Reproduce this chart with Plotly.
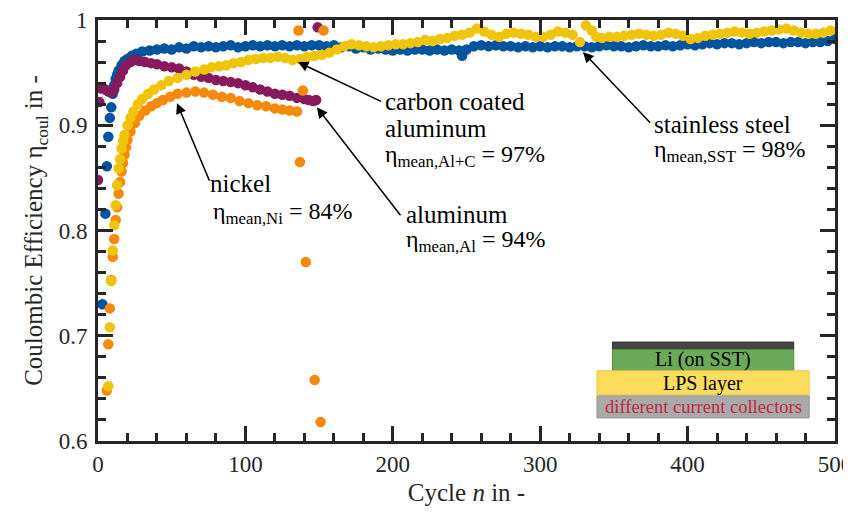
import plotly.graph_objects as go

# ---------------- data ----------------
sst_cycles = [3, 5, 6, 7, 8, 9, 10, 11, 12, 13, 14, 16, 18, 20, 23, 26,
              30, 35, 40, 45, 50, 55, 60, 65, 70, 75, 80, 85, 90, 95, 100,
              105, 110, 115, 120, 125, 130, 135, 140, 145, 150, 155, 160, 165,
              170, 175, 180, 185, 190, 195, 200, 205, 210, 215, 220, 225, 230,
              235, 240, 245, 247, 250, 255, 260, 265, 270, 275, 280, 285, 290,
              295, 300, 305, 310, 315, 320, 325, 330, 335, 340, 345, 350, 355,
              360, 365, 370, 375, 380, 385, 390, 395, 400, 405, 410, 415, 420,
              425, 430, 435, 440, 445, 450, 455, 460, 465, 470, 475, 480, 485,
              490, 495, 500]
sst_eta = [0.730, 0.816, 0.861, 0.889, 0.907, 0.917, 0.930, 0.938, 0.944, 0.948,
           0.952, 0.957, 0.961, 0.963, 0.966, 0.968,
           0.970, 0.971, 0.972, 0.973, 0.972, 0.974, 0.973, 0.975, 0.974, 0.975,
           0.974, 0.975, 0.976, 0.974, 0.975, 0.976, 0.975, 0.976, 0.975, 0.976,
           0.975, 0.976, 0.975, 0.976, 0.976, 0.975, 0.976, 0.974, 0.975, 0.973,
           0.974, 0.972, 0.973, 0.972, 0.971, 0.972, 0.971, 0.972, 0.972, 0.971,
           0.972, 0.971, 0.972, 0.971, 0.966, 0.972, 0.975, 0.976, 0.975, 0.976,
           0.975, 0.975, 0.974, 0.975, 0.974, 0.975, 0.974, 0.975, 0.975, 0.974,
           0.975, 0.975, 0.974, 0.975, 0.976, 0.975, 0.975, 0.974, 0.975, 0.976,
           0.975, 0.975, 0.976, 0.975, 0.976, 0.977, 0.976, 0.977, 0.978, 0.977,
           0.978, 0.978, 0.977, 0.978, 0.979, 0.978, 0.979, 0.979, 0.978, 0.979,
           0.979, 0.978, 0.979, 0.979, 0.980, 0.982]

al_cycles = [0, 1, 2, 3, 5, 7, 9, 11, 13, 15, 17, 19, 22, 25, 28, 32, 36, 40,
             45, 50, 55, 60, 65, 70, 75, 80, 85, 90, 95, 100, 105, 110, 115,
             120, 125, 130, 135, 140, 143, 146, 148, 149]
al_eta = [0.848, 0.922, 0.935, 0.936, 0.934, 0.932, 0.931, 0.934, 0.940, 0.946,
          0.952, 0.957, 0.960, 0.962, 0.961, 0.960, 0.959, 0.958, 0.956, 0.955,
          0.954, 0.951, 0.948, 0.946, 0.945, 0.943, 0.942, 0.941, 0.940, 0.938,
          0.936, 0.934, 0.932, 0.930, 0.929, 0.928, 0.926, 0.925, 0.924, 0.923,
          0.924, 0.993]

ni_cycles = [6, 7, 8, 9, 10, 11, 12, 13, 14, 15, 16, 17, 18, 19, 20, 22, 25,
             28, 32, 36, 40, 44, 49, 54, 60, 66, 72, 78, 84, 90, 96, 102, 108,
             114, 120, 125, 130, 135, 136, 137, 139, 141, 147, 151, 153]
ni_eta = [0.648, 0.692, 0.726, 0.753, 0.775, 0.792, 0.810, 0.822, 0.835, 0.846,
          0.856, 0.864, 0.872, 0.879, 0.886, 0.894, 0.902, 0.909, 0.914, 0.918,
          0.921, 0.924, 0.927, 0.930, 0.931, 0.932, 0.931, 0.929, 0.927, 0.926,
          0.923, 0.921, 0.919, 0.918, 0.916, 0.915, 0.914, 0.913, 0.990, 0.865,
          0.933, 0.770, 0.658, 0.618, 0.990]

alc_cycles = [7, 8, 9, 10, 11, 12, 13, 14, 15, 16, 17, 18, 20, 22, 24, 27, 30,
              34, 38, 43, 48, 54, 60, 66, 72, 77, 82, 87, 92, 97, 102, 107, 112,
              117, 122, 127, 132, 137, 142, 147, 152, 157, 162, 167, 172, 177,
              182, 187, 192, 197, 202, 207, 212, 217, 222, 227, 232, 237, 242,
              247, 252, 257, 262, 267, 272, 277, 282, 287, 292, 297, 302, 307,
              312, 317, 322, 327, 331, 335, 338, 342, 347, 352, 357, 362, 367,
              372, 377, 382, 387, 392, 397, 402, 407, 412, 417, 422, 427, 432,
              437, 442, 447, 452, 457, 462, 467, 472, 477, 482, 487, 492, 497]
alc_eta = [0.652, 0.708, 0.752, 0.781, 0.805, 0.824, 0.843, 0.859, 0.868, 0.878,
           0.885, 0.891, 0.900, 0.907, 0.913, 0.920, 0.925, 0.930, 0.934, 0.938,
           0.942, 0.945, 0.948, 0.951, 0.953, 0.955, 0.956, 0.957, 0.959, 0.960,
           0.962, 0.963, 0.964, 0.964, 0.965, 0.964, 0.962, 0.963, 0.965, 0.966,
           0.967, 0.969, 0.972, 0.975, 0.977, 0.976, 0.975, 0.974, 0.975, 0.976,
           0.977, 0.977, 0.978, 0.979, 0.981, 0.980, 0.982, 0.983, 0.985, 0.986,
           0.988, 0.992, 0.989, 0.986, 0.984, 0.987, 0.988, 0.987, 0.986, 0.984,
           0.984, 0.986, 0.989, 0.988, 0.986, 0.979, 0.995, 0.990, 0.984, 0.983,
           0.984, 0.984, 0.985, 0.986, 0.987, 0.986, 0.985, 0.986, 0.988, 0.987,
           0.985, 0.982, 0.983, 0.985, 0.986, 0.987, 0.988, 0.989, 0.988, 0.987,
           0.988, 0.989, 0.990, 0.991, 0.992, 0.990, 0.988, 0.987, 0.987, 0.988,
           0.990]

x_tick_vals = [0, 100, 200, 300, 400, 500]
x_tick_text = ["0", "100", "200", "300", "400", "500"]
y_tick_vals = [0.6, 0.7, 0.8, 0.9, 1.0]
y_tick_text = ["0.6", "0.7", "0.8", "0.9", "1"]

# ---------------- styling ----------------
C_SST = "#00549f"
C_AL = "#861a5c"
C_NI = "#f38a0c"
C_ALC = "#f0c40a"
AX = "#262626"
FONT = "Liberation Serif"
MS = 10.5

fig = go.Figure()
for xs, ys, col, name in [(sst_cycles, sst_eta, C_SST, "stainless steel"),
                          (al_cycles, al_eta, C_AL, "aluminum"),
                          (ni_cycles, ni_eta, C_NI, "nickel"),
                          (alc_cycles, alc_eta, C_ALC, "carbon coated aluminum")]:
    fig.add_trace(go.Scatter(x=xs, y=ys, mode="markers", name=name,
                             marker=dict(size=MS, color=col, line=dict(width=0)),
                             showlegend=False))

annots = []
def arrow(hx, hy, tx, ty):
    annots.append(dict(x=hx, y=hy, ax=tx, ay=ty, xref="x", yref="y",
                       axref="x", ayref="y", text="", showarrow=True,
                       arrowhead=2, arrowsize=1.4, arrowwidth=1.5,
                       arrowcolor="black", standoff=0, startstandoff=0))

def label(x, y, txt, size=25):
    annots.append(dict(x=x, y=y, xref="x", yref="y", text=txt, showarrow=False,
                       xanchor="left", yanchor="middle", borderpad=0,
                       font=dict(family=FONT, size=size, color="black")))

# nickel
arrow(53.6, 0.921, 76, 0.846)
label(75.5, 0.845, "nickel")
label(77, 0.817, "η<sub>mean,Ni</sub> = 84%", 24)
# aluminum
arrow(148.5, 0.917, 206, 0.813)
label(208, 0.815, "aluminum")
label(208, 0.790, "η<sub>mean,Al</sub> = 94%", 24)
# carbon coated aluminum
arrow(135.6, 0.960, 193, 0.922)
label(194, 0.9225, "carbon coated")
label(194, 0.8965, "aluminum")
label(194, 0.871, "η<sub>mean,Al+C</sub> = 97%", 24)
# stainless steel
arrow(329, 0.9695, 375.6, 0.901)
label(376.5, 0.901, "stainless steel")
label(376.5, 0.876, "η<sub>mean,SST</sub> = 98%", 24)

# inset schematic
shapes = [
    dict(type="rect", xref="x", yref="y", x0=349, x1=472, y0=0.687, y1=0.694,
         fillcolor="#454545", line=dict(color="#333333", width=1), layer="above"),
    dict(type="rect", xref="x", yref="y", x0=349, x1=472, y0=0.6667, y1=0.687,
         fillcolor="#6aaa58", line=dict(color="#4d8a40", width=1), layer="above"),
    dict(type="rect", xref="x", yref="y", x0=338.5, x1=482.5, y0=0.6438, y1=0.6667,
         fillcolor="#fcdc5c", line=dict(color="#f0c840", width=1), layer="above"),
    dict(type="rect", xref="x", yref="y", x0=338.5, x1=482.5, y0=0.6219, y1=0.6429,
         fillcolor="#a9a9a9", line=dict(color="#999999", width=1), layer="above"),
]
for y, txt, col, sz in [(0.677, "Li (on SST)", "black", 20),
                        (0.655, "LPS layer", "black", 20),
                        (0.6325, "different current collectors", "#c0283f", 18.5)]:
    annots.append(dict(x=410.5, y=y, xref="x", yref="y", text=txt, showarrow=False,
                       xanchor="center", yanchor="middle", borderpad=0,
                       font=dict(family=FONT, size=sz, color=col)))

axis_common = dict(showline=True, linecolor=AX, linewidth=3, mirror="ticks",
                   ticks="inside", ticklen=15, tickwidth=2.5, tickcolor=AX,
                   showgrid=False, zeroline=False, automargin=False,
                   ticklabeloverflow="allow",
                   tickfont=dict(family=FONT, size=23, color="#262626"))

# the page body offsets the plot div by 8px, so the figure is sized so that
# its right and bottom edges meet the 851x515 window edges
fig.update_layout(
    width=843, height=507,
    margin=dict(l=90, r=16, t=12, b=74),
    paper_bgcolor="white", plot_bgcolor="white",
    font=dict(family=FONT, size=23, color="#262626"),
    xaxis=dict(range=[0, 500], tickvals=x_tick_vals, ticktext=x_tick_text,
               minor=dict(dtick=20, ticks="inside", ticklen=8, tickwidth=2.5,
                          tickcolor=AX, showgrid=False),
               title=dict(text="Cycle <i>n</i> in -", standoff=8,
                          font=dict(family=FONT, size=25, color="#262626")),
               ticklabelstandoff=0, **axis_common),
    yaxis=dict(range=[0.6, 1.0], tickvals=y_tick_vals, ticktext=y_tick_text,
               minor=dict(dtick=0.02, ticks="inside", ticklen=8, tickwidth=2.5,
                          tickcolor=AX, showgrid=False),
               title=dict(text="Coulombic Efficiency η<sub>coul</sub> in -", standoff=9,
                          font=dict(family=FONT, size=25, color="#262626")),
               ticklabelstandoff=3, **axis_common),
    annotations=annots,
    shapes=shapes,
)

fig.write_html("out.html")
